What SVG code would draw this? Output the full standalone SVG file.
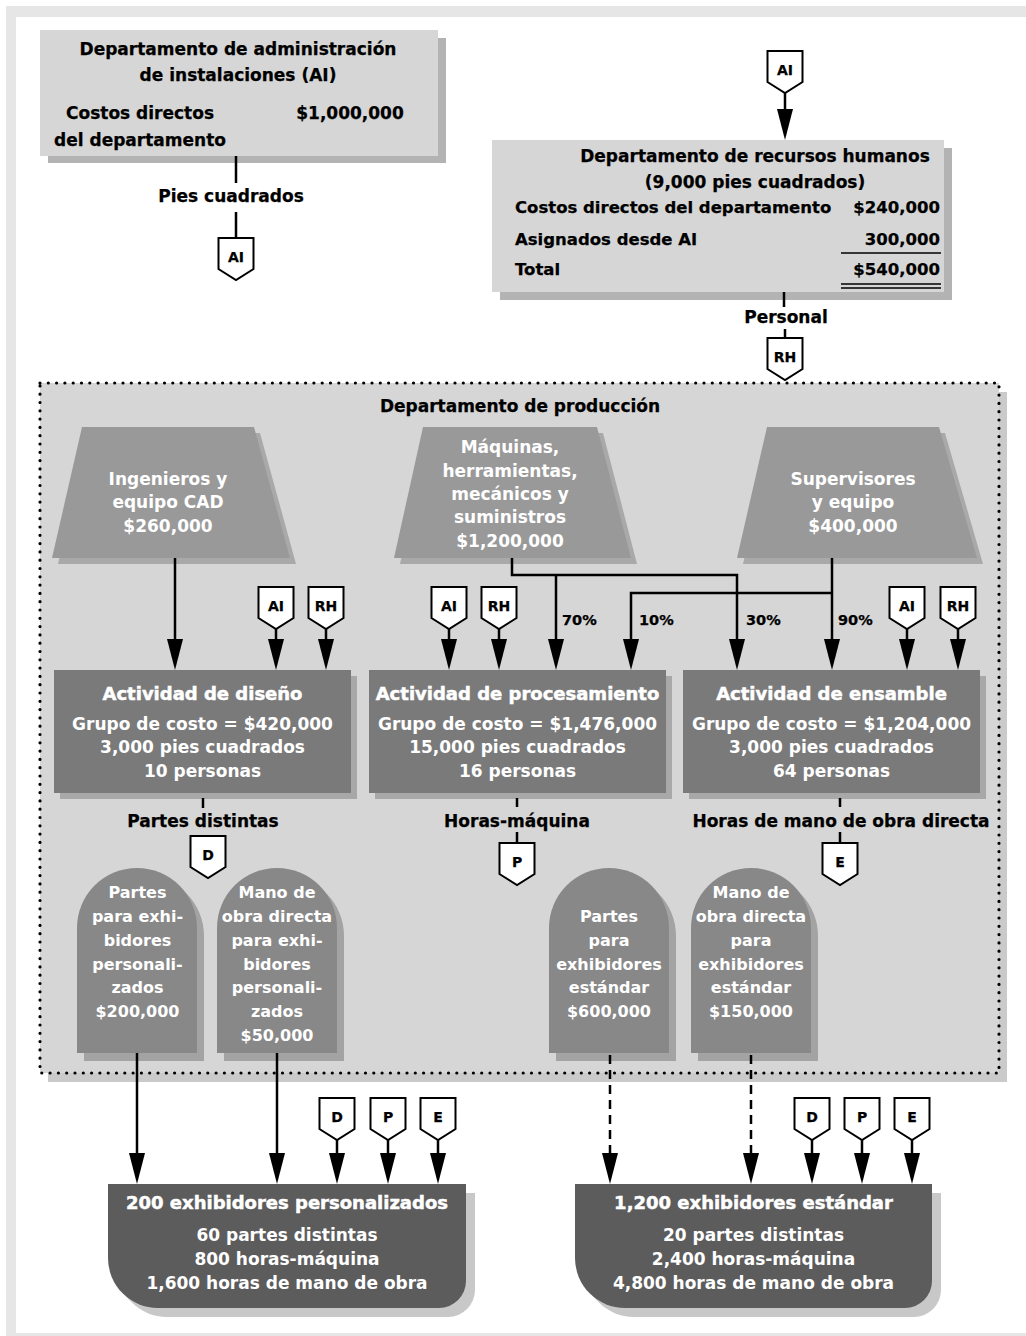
<svg xmlns="http://www.w3.org/2000/svg" xmlns:xlink="http://www.w3.org/1999/xlink" width="1026" height="1336" viewBox="0 0 1026 1336">
<style>
.t{font-family:"DejaVu Sans","Liberation Sans",Arial,sans-serif;font-weight:bold;font-size:17px;fill:#000;stroke:#000;stroke-width:0.25}
.w{fill:#fff;stroke:none}
.m{text-anchor:middle}
.e{text-anchor:end}
.ttl{font-size:18px;stroke:#fff;stroke-width:0.5}
.tb{font-size:16px}
.hr{font-size:16.5px}
.pc{font-size:14.5px}
.tt{font-size:14px}
.ln{stroke:#000;stroke-width:2.5;fill:none}
.ar{marker-end:url(#ah)}
.dash{stroke-dasharray:9 6}
.tg{fill:#fff;stroke:#000;stroke-width:2;stroke-linejoin:miter}
.boxL{fill:#d6d6d6}
.shL{fill:#b3b3b3}
.trap{fill:#999999}
.shT{fill:#a9a9a9}
.act{fill:#7a7a7a}
.shA{fill:#a8a8a8}
.tomb{fill:#888888}
.shTb{fill:#a3a3a3}
.out{fill:#5c5c5c}
.shO{fill:#c8c8c8}
.ul{stroke:#000;stroke-width:1.4;fill:none}
</style>
<defs>
<marker id="ah" markerUnits="userSpaceOnUse" markerWidth="32" markerHeight="18" viewBox="0 -9 32 18" refX="20" refY="0" orient="auto">
<path d="M0,-8 L31,0 L0,8 Z" fill="#000"/>
</marker>
<path id="tagshape" d="M-17.5,0 H17.5 V31 L0,42 L-17.5,31 Z"/>
<path id="tombshape" d="M0,185 V60 A60,60 0 0 1 120,60 V185 Z"/>
</defs>

<!-- page frame -->
<g id="frame">
<rect x="6" y="6" width="1020" height="1330" fill="#e6e6e6"/>
<rect x="16" y="17" width="1010" height="1316" fill="#ffffff"/>
</g>

<!-- Facilities administration department -->
<g id="n-ai-dept">
<rect class="shL" x="48" y="38" width="398" height="125"/>
<rect class="boxL" x="40" y="30" width="398" height="126"/>
<text class="t m" x="238" y="55">Departamento de administración</text>
<text class="t m" x="238" y="81">de instalaciones (AI)</text>
<text class="t m" x="140" y="119">Costos directos</text>
<text class="t m" x="140" y="146">del departamento</text>
<text class="t m" x="350" y="119">$1,000,000</text>
</g>

<!-- Human resources department -->
<g id="n-rh-dept">
<rect class="shL" x="500" y="148" width="452" height="152"/>
<rect class="boxL" x="492" y="140" width="452" height="152"/>
<text class="t m" x="755" y="162">Departamento de recursos humanos</text>
<text class="t m" x="755" y="188">(9,000 pies cuadrados)</text>
<text class="t hr" x="515" y="213">Costos directos del departamento</text>
<text class="t hr e" x="940" y="213">$240,000</text>
<text class="t hr" x="515" y="245">Asignados desde AI</text>
<text class="t hr e" x="940" y="245">300,000</text>
<line class="ul" x1="841" y1="253" x2="941" y2="253"/>
<text class="t hr" x="515" y="275">Total</text>
<text class="t hr e" x="940" y="275">$540,000</text>
<line class="ul" x1="841" y1="284" x2="941" y2="284"/>
<line class="ul" x1="841" y1="288" x2="941" y2="288"/>
</g>

<!-- Production department container -->
<g id="n-produccion">
<rect x="48" y="392" width="959" height="690" fill="#cacaca"/>
<rect x="40" y="383" width="959" height="690" fill="#d6d6d6"/>
<rect x="40" y="383" width="959" height="690" fill="none" stroke="#000" stroke-width="3.2" stroke-dasharray="0 8.3" stroke-linecap="round"/>
<text class="t m" x="520" y="412">Departamento de producción</text>
</g>

<!-- Resource trapezoids -->
<g id="n-ingenieros">
<polygon class="shT" points="88,433 260,433 296,564 58,564"/>
<polygon class="trap" points="82,427 254,427 290,558 52,558"/>
<text class="t m w" x="168" y="485">Ingenieros y</text>
<text class="t m w" x="168" y="508">equipo CAD</text>
<text class="t m w" x="168" y="532">$260,000</text>
</g>
<g id="n-maquinas">
<polygon class="shT" points="429,433 603,433 637,564 400,564"/>
<polygon class="trap" points="423,427 597,427 631,558 394,558"/>
<text class="t m w" x="510" y="453">Máquinas,</text>
<text class="t m w" x="510" y="477">herramientas,</text>
<text class="t m w" x="510" y="500">mecánicos y</text>
<text class="t m w" x="510" y="523">suministros</text>
<text class="t m w" x="510" y="547">$1,200,000</text>
</g>
<g id="n-supervisores">
<polygon class="shT" points="773,433 945,433 983,564 743,564"/>
<polygon class="trap" points="767,427 939,427 977,558 737,558"/>
<text class="t m w" x="853" y="485">Supervisores</text>
<text class="t m w" x="853" y="508">y equipo</text>
<text class="t m w" x="853" y="532">$400,000</text>
</g>

<!-- Activities -->
<g id="n-act-diseno">
<rect class="shA" x="60" y="676" width="297" height="123"/>
<rect class="act" x="54" y="670" width="297" height="123"/>
<text class="t m w ttl" x="202.5" y="700">Actividad de diseño</text>
<text class="t m w" x="202.5" y="730">Grupo de costo = $420,000</text>
<text class="t m w" x="202.5" y="753">3,000 pies cuadrados</text>
<text class="t m w" x="202.5" y="777">10 personas</text>
</g>
<g id="n-act-procesamiento">
<rect class="shA" x="375" y="676" width="297" height="123"/>
<rect class="act" x="369" y="670" width="297" height="123"/>
<text class="t m w ttl" x="517.5" y="700">Actividad de procesamiento</text>
<text class="t m w" x="517.5" y="730">Grupo de costo = $1,476,000</text>
<text class="t m w" x="517.5" y="753">15,000 pies cuadrados</text>
<text class="t m w" x="517.5" y="777">16 personas</text>
</g>
<g id="n-act-ensamble">
<rect class="shA" x="689" y="676" width="297" height="123"/>
<rect class="act" x="683" y="670" width="297" height="123"/>
<text class="t m w ttl" x="831.5" y="700">Actividad de ensamble</text>
<text class="t m w" x="831.5" y="730">Grupo de costo = $1,204,000</text>
<text class="t m w" x="831.5" y="753">3,000 pies cuadrados</text>
<text class="t m w" x="831.5" y="777">64 personas</text>
</g>

<!-- Direct cost tombstones -->
<g id="n-partes-pers">
<use href="#tombshape" class="shTb" transform="translate(84,876)"/>
<use href="#tombshape" class="tomb" transform="translate(77,868)"/>
<text class="t m w tb" x="137.5" y="898">Partes</text>
<text class="t m w tb" x="137.5" y="922">para exhi-</text>
<text class="t m w tb" x="137.5" y="946">bidores</text>
<text class="t m w tb" x="137.5" y="970">personali-</text>
<text class="t m w tb" x="137.5" y="993">zados</text>
<text class="t m w tb" x="137.5" y="1017">$200,000</text>
</g>
<g id="n-mano-pers">
<use href="#tombshape" class="shTb" transform="translate(224,876)"/>
<use href="#tombshape" class="tomb" transform="translate(217,868)"/>
<text class="t m w tb" x="277" y="898">Mano de</text>
<text class="t m w tb" x="277" y="922">obra directa</text>
<text class="t m w tb" x="277" y="946">para exhi-</text>
<text class="t m w tb" x="277" y="970">bidores</text>
<text class="t m w tb" x="277" y="993">personali-</text>
<text class="t m w tb" x="277" y="1017">zados</text>
<text class="t m w tb" x="277" y="1041">$50,000</text>
</g>
<g id="n-partes-std">
<use href="#tombshape" class="shTb" transform="translate(556,876)"/>
<use href="#tombshape" class="tomb" transform="translate(549,868)"/>
<text class="t m w tb" x="609" y="922">Partes</text>
<text class="t m w tb" x="609" y="946">para</text>
<text class="t m w tb" x="609" y="970">exhibidores</text>
<text class="t m w tb" x="609" y="993">estándar</text>
<text class="t m w tb" x="609" y="1017">$600,000</text>
</g>
<g id="n-mano-std">
<use href="#tombshape" class="shTb" transform="translate(698,876)"/>
<use href="#tombshape" class="tomb" transform="translate(691,868)"/>
<text class="t m w tb" x="751" y="898">Mano de</text>
<text class="t m w tb" x="751" y="922">obra directa</text>
<text class="t m w tb" x="751" y="946">para</text>
<text class="t m w tb" x="751" y="970">exhibidores</text>
<text class="t m w tb" x="751" y="993">estándar</text>
<text class="t m w tb" x="751" y="1017">$150,000</text>
</g>

<!-- Products -->
<g id="n-out-personalizados">
<path class="shO" d="M117,1193 H475 V1290 A27,27 0 0 1 448,1317 H167 A50,50 0 0 1 117,1267 Z"/>
<path class="out" d="M108,1184 H466 V1281 A27,27 0 0 1 439,1308 H158 A50,50 0 0 1 108,1258 Z"/>
<text class="t m w ttl" x="287" y="1209">200 exhibidores personalizados</text>
<text class="t m w" x="287" y="1241">60 partes distintas</text>
<text class="t m w" x="287" y="1265">800 horas-máquina</text>
<text class="t m w" x="287" y="1289">1,600 horas de mano de obra</text>
</g>
<g id="n-out-estandar">
<path class="shO" d="M584,1193 H941 V1290 A27,27 0 0 1 914,1317 H634 A50,50 0 0 1 584,1267 Z"/>
<path class="out" d="M575,1184 H932 V1281 A27,27 0 0 1 905,1308 H625 A50,50 0 0 1 575,1258 Z"/>
<text class="t m w ttl" x="753.5" y="1209">1,200 exhibidores estándar</text>
<text class="t m w" x="753.5" y="1241">20 partes distintas</text>
<text class="t m w" x="753.5" y="1265">2,400 horas-máquina</text>
<text class="t m w" x="753.5" y="1289">4,800 horas de mano de obra</text>
</g>

<!-- Connectors -->
<g id="connectors">
<path class="ln" d="M236,156 V183 M236,212 V238"/>
<text class="t m" x="231" y="202">Pies cuadrados</text>
<path class="ln ar" d="M785,93 V129"/>
<path class="ln" d="M784,292 V307 M785,329 V338"/>
<text class="t m" x="786" y="323">Personal</text>

<path class="ln ar" d="M175,558 V659"/>
<path class="ln ar" d="M512,558 V575 H737 V659"/>
<path class="ln ar" d="M556,575 V659"/>
<path class="ln ar" d="M832,558 V659"/>
<path class="ln ar" d="M832,593 H631 V659"/>
<text class="t pc" x="562" y="625">70%</text>
<text class="t pc" x="639" y="625">10%</text>
<text class="t pc" x="746" y="625">30%</text>
<text class="t pc" x="838" y="625">90%</text>

<path class="ln ar" d="M276,628 V659"/>
<path class="ln ar" d="M326,628 V659"/>
<path class="ln ar" d="M449,628 V659"/>
<path class="ln ar" d="M499,628 V659"/>
<path class="ln ar" d="M907,628 V659"/>
<path class="ln ar" d="M958,628 V659"/>

<path class="ln" d="M203,798 V808"/>
<text class="t m" x="203" y="827">Partes distintas</text>
<path class="ln" d="M517,798 V807 M517,832 V843"/>
<text class="t m" x="517" y="827">Horas-máquina</text>
<path class="ln" d="M840,798 V807 M840,832 V843"/>
<text class="t m" x="841" y="827">Horas de mano de obra directa</text>

<path class="ln ar" d="M137,1053 V1173"/>
<path class="ln ar" d="M277,1053 V1173"/>
<path class="ln ar dash" d="M610,1055 V1173"/>
<path class="ln ar dash" d="M751,1055 V1173"/>

<path class="ln ar" d="M337,1140 V1173"/>
<path class="ln ar" d="M388,1140 V1173"/>
<path class="ln ar" d="M438,1140 V1173"/>
<path class="ln ar" d="M812,1140 V1173"/>
<path class="ln ar" d="M862,1140 V1173"/>
<path class="ln ar" d="M912,1140 V1173"/>
</g>

<!-- Allocation tags -->
<g id="tag-ai-out" transform="translate(236,238)"><use href="#tagshape" class="tg"/><text class="t m tt" x="0" y="24">AI</text></g>
<g id="tag-ai-rh" transform="translate(785,51)"><use href="#tagshape" class="tg"/><text class="t m tt" x="0" y="24">AI</text></g>
<g id="tag-rh-out" transform="translate(785,338)"><use href="#tagshape" class="tg"/><text class="t m tt" x="0" y="24">RH</text></g>
<g id="tag-ai-dis" transform="translate(276,587)"><use href="#tagshape" class="tg"/><text class="t m tt" x="0" y="24">AI</text></g>
<g id="tag-rh-dis" transform="translate(326,587)"><use href="#tagshape" class="tg"/><text class="t m tt" x="0" y="24">RH</text></g>
<g id="tag-ai-proc" transform="translate(449,587)"><use href="#tagshape" class="tg"/><text class="t m tt" x="0" y="24">AI</text></g>
<g id="tag-rh-proc" transform="translate(499,587)"><use href="#tagshape" class="tg"/><text class="t m tt" x="0" y="24">RH</text></g>
<g id="tag-ai-ens" transform="translate(907,587)"><use href="#tagshape" class="tg"/><text class="t m tt" x="0" y="24">AI</text></g>
<g id="tag-rh-ens" transform="translate(958,587)"><use href="#tagshape" class="tg"/><text class="t m tt" x="0" y="24">RH</text></g>
<g id="tag-d-out" transform="translate(208,836)"><use href="#tagshape" class="tg"/><text class="t m tt" x="0" y="24">D</text></g>
<g id="tag-p-out" transform="translate(517,843)"><use href="#tagshape" class="tg"/><text class="t m tt" x="0" y="24">P</text></g>
<g id="tag-e-out" transform="translate(840,843)"><use href="#tagshape" class="tg"/><text class="t m tt" x="0" y="24">E</text></g>
<g id="tag-d-pers" transform="translate(337,1098)"><use href="#tagshape" class="tg"/><text class="t m tt" x="0" y="24">D</text></g>
<g id="tag-p-pers" transform="translate(388,1098)"><use href="#tagshape" class="tg"/><text class="t m tt" x="0" y="24">P</text></g>
<g id="tag-e-pers" transform="translate(438,1098)"><use href="#tagshape" class="tg"/><text class="t m tt" x="0" y="24">E</text></g>
<g id="tag-d-std" transform="translate(812,1098)"><use href="#tagshape" class="tg"/><text class="t m tt" x="0" y="24">D</text></g>
<g id="tag-p-std" transform="translate(862,1098)"><use href="#tagshape" class="tg"/><text class="t m tt" x="0" y="24">P</text></g>
<g id="tag-e-std" transform="translate(912,1098)"><use href="#tagshape" class="tg"/><text class="t m tt" x="0" y="24">E</text></g>
</svg>
